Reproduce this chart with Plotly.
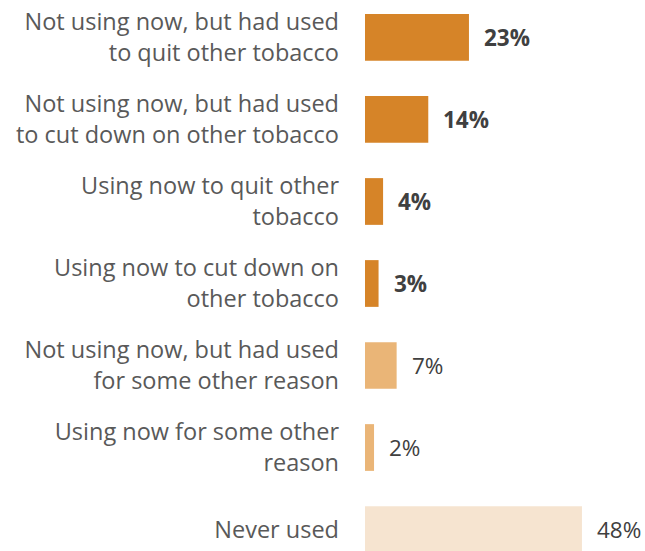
import plotly.graph_objects as go

categories = [
    "Not using now, but had used<br>to quit other tobacco",
    "Not using now, but had used<br>to cut down on other tobacco",
    "Using now to quit other<br>tobacco",
    "Using now to cut down on<br>other tobacco",
    "Not using now, but had used<br>for some other reason",
    "Using now for some other<br>reason",
    "Never used",
]
values = [23, 14, 4, 3, 7, 2, 48]
bar_colors = ["#D68428", "#D68428", "#D68428", "#D68428", "#EAB577", "#EAB577", "#F6E4D0"]
bold = [True, True, True, True, False, False, False]

fig = go.Figure(go.Bar(
    y=categories, x=values, orientation="h",
    marker=dict(color=bar_colors, line=dict(width=0)),
    width=0.57, hoverinfo="skip",
))

for c, v, b in zip(categories, values, bold):
    txt = f"<b>{v}%</b>" if b else f"{v}%"
    fig.add_annotation(x=v, y=c, text=txt, showarrow=False, xanchor="left",
                       xshift=13, font=dict(family="Open Sans", size=22.5, color="#404040"))

fig.update_layout(
    width=645, height=551,
    margin=dict(l=365, r=0, t=0, b=0),
    paper_bgcolor="white", plot_bgcolor="white",
    showlegend=False,
    font=dict(family="Open Sans", size=23.5, color="#595959"),
)
fig.update_xaxes(range=[0, 280 / 4.52], visible=False)
fig.update_yaxes(range=[6.262, -0.457], showgrid=False, zeroline=False, showline=False,
                 ticks="", ticklabelstandoff=25, tickfont=dict(family="Open Sans", size=23.5, color="#595959"))

fig.write_html("out.html")
